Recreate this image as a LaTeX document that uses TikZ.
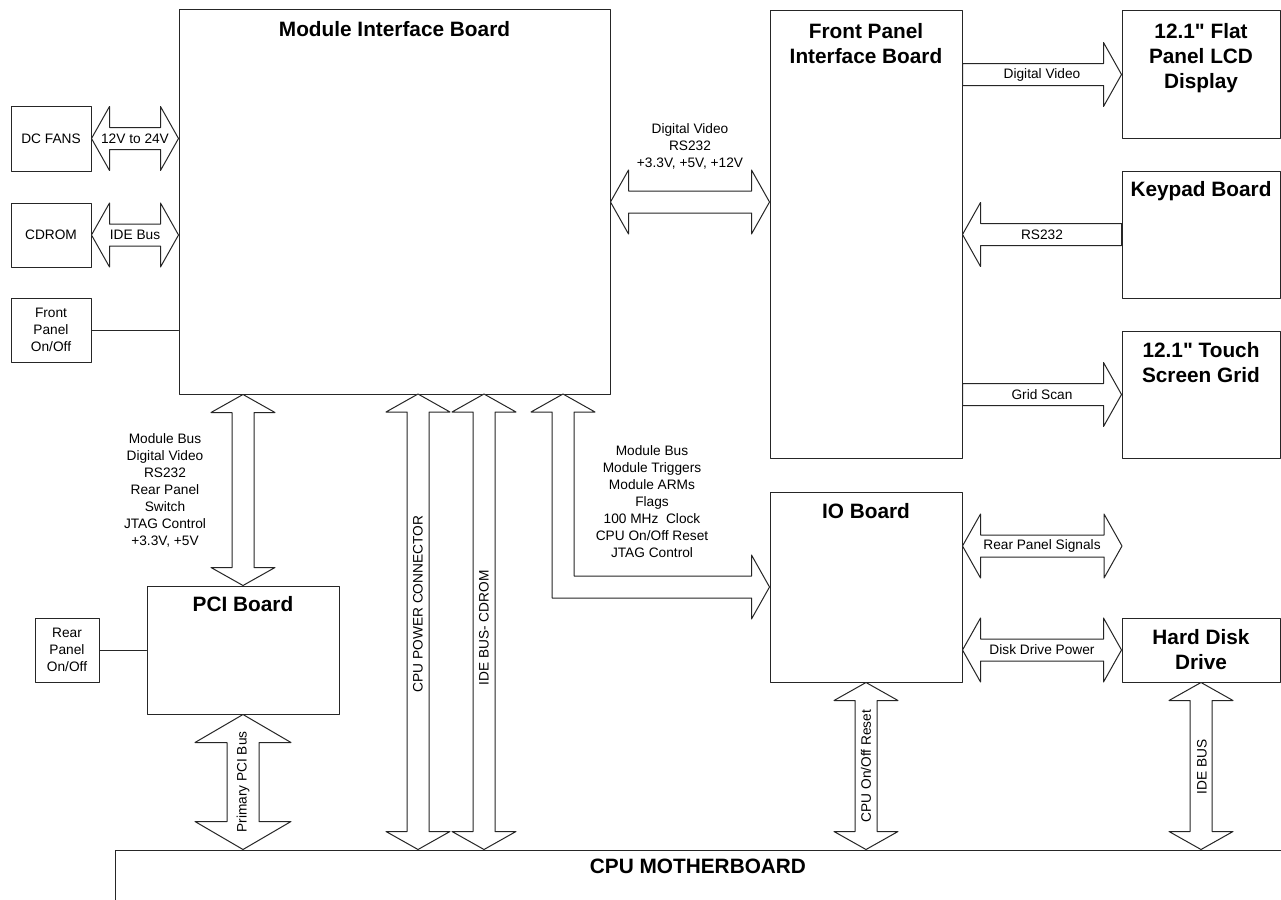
\documentclass[tikz,border=0pt]{standalone}
\usepackage{fontspec}
\setmainfont{Liberation Sans}
\newfontfamily\plainsans{Liberation Sans}
\usetikzlibrary{calc}
\definecolor{busInk}{HTML}{262626}
% fat bus arrows: head length, head half width, shaft half width
\newcommand{\bhl}{18pt}
\newcommand{\bhw}{32pt}
\newcommand{\bsw}{11pt}
\newcommand{\busLR}[2]{\draw[bus] let \p1=#1, \p2=#2 in (\x1,\y1) -- (\x1+\bhl,\y1+\bhw) -- (\x1+\bhl,\y1+\bsw) -- (\x2-\bhl,\y1+\bsw) -- (\x2-\bhl,\y1+\bhw) -- (\x2,\y1) -- (\x2-\bhl,\y1-\bhw) -- (\x2-\bhl,\y1-\bsw) -- (\x1+\bhl,\y1-\bsw) -- (\x1+\bhl,\y1-\bhw) -- cycle;}
\newcommand{\busR}[2]{\draw[bus] let \p1=#1, \p2=#2 in (\x1,\y1+\bsw) -- (\x2-\bhl,\y1+\bsw) -- (\x2-\bhl,\y1+\bhw) -- (\x2,\y1) -- (\x2-\bhl,\y1-\bhw) -- (\x2-\bhl,\y1-\bsw) -- (\x1,\y1-\bsw) -- cycle;}
\newcommand{\busL}[2]{\draw[bus] let \p1=#1, \p2=#2 in (\x2,\y1+\bsw) -- (\x1+\bhl,\y1+\bsw) -- (\x1+\bhl,\y1+\bhw) -- (\x1,\y1) -- (\x1+\bhl,\y1-\bhw) -- (\x1+\bhl,\y1-\bsw) -- (\x2,\y1-\bsw) -- cycle;}
\newcommand{\busUD}[2]{\draw[bus] let \p1=#1, \p2=#2 in (\x1,\y1) -- (\x1+\bhw,\y1-\bhl) -- (\x1+\bsw,\y1-\bhl) -- (\x1+\bsw,\y2+\bhl) -- (\x1+\bhw,\y2+\bhl) -- (\x1,\y2) -- (\x1-\bhw,\y2+\bhl) -- (\x1-\bsw,\y2+\bhl) -- (\x1-\bsw,\y1-\bhl) -- (\x1-\bhw,\y1-\bhl) -- cycle;}
\newcommand{\inch}{{\plainsans"}}

\begin{document}
\begin{tikzpicture}[x=1pt,y=-1pt,line cap=round,line join=round]
\useasboundingbox (0,0) rectangle (1281,899);
\path[fill=white] (0,0) rectangle (1281,899);
\clip (0,0) rectangle (1281,899);
\tikzset{box/.style={draw=busInk,line width=1pt,inner sep=0pt},wire/.style={draw=busInk,line width=1pt},bus/.style={draw=busInk,fill=white,line width=1pt},title/.style={anchor=north,font=\fontsize{20.8}{25}\selectfont\bfseries,align=center,inner sep=0pt},lbl/.style={font=\fontsize{13.7}{17}\selectfont,align=center,inner sep=0pt}}
% boards
\node[box,minimum width=431pt,minimum height=384pt] (mib) at (394.5,202) {};
\node[title] (mibT) at ([yshift=-12pt]mib.north) {Module Interface Board};
\node[box,lbl,minimum width=80pt,minimum height=65pt] (fans) at (51,138.5) {DC FANS};
\node[box,lbl,minimum width=80pt,minimum height=64pt] (cdrom) at (51,235) {CDROM};
\node[box,lbl,minimum width=80pt,minimum height=64pt] (fpsw) at (51,330) {Front\\Panel\\On/Off};
\node[box,minimum width=192pt,minimum height=447pt] (fpib) at (866,234.5) {};
\node[title] (fpibT) at ([yshift=-13pt]fpib.north) {Front Panel\\Interface Board};
\node[box,minimum width=158pt,minimum height=127pt] (lcd) at (1201,74.5) {};
\node[title] (lcdT) at ([yshift=-13pt]lcd.north) {12.1\inch{} Flat\\Panel LCD\\Display};
\node[box,minimum width=158pt,minimum height=127pt] (keypad) at (1201,234.5) {};
\node[title] (keypadT) at ([yshift=-11pt]keypad.north) {Keypad Board};
\node[box,minimum width=158pt,minimum height=127pt] (touch) at (1201,394.5) {};
\node[title] (touchT) at ([yshift=-12pt]touch.north) {12.1\inch{} Touch\\Screen Grid};
\node[box,minimum width=192pt,minimum height=190pt] (io) at (866,587) {};
\node[title] (ioT) at ([yshift=-12pt]io.north) {IO Board};
\node[box,minimum width=158pt,minimum height=64pt,font=\fontsize{20.8}{25}\selectfont\bfseries,align=center] (hdd) at (1201,650) {Hard Disk\\Drive};
\node[box,minimum width=192pt,minimum height=128pt] (pci) at (243,650) {};
\node[title] (pciT) at ([yshift=-11pt]pci.north) {PCI Board};
\node[box,lbl,minimum width=64pt,minimum height=64pt] (rpsw) at (67,650) {Rear\\Panel\\On/Off};
\node[box,minimum width=1185pt,minimum height=110pt] (cpu) at (707.5,905) {};
\node[title,anchor=center] (cpuT) at (698,866) {CPU MOTHERBOARD};
% buses
\busLR{(fans.east)}{(fans.east -| mib.west)}
\busLR{(cdrom.east)}{(cdrom.east -| mib.west)}
\draw[wire] (fpsw.east) -- (fpsw.east -| mib.west);
\busLR{(mib.east)}{(mib.east -| fpib.west)}
\busR{(lcd.west -| fpib.east)}{(lcd.west)}
\busL{(keypad.west -| fpib.east)}{(keypad.west)}
\busR{(touch.west -| fpib.east)}{(touch.west)}
\coordinate (rpend) at (1122,546);
\busLR{(rpend -| io.east)}{(rpend)}
\busLR{(hdd.west -| io.east)}{(hdd.west)}
\busUD{(pci.north |- mib.south)}{(pci.north)}
\coordinate (pwr) at (418,394);
\coordinate (ide) at (484,394);
\busUD{(pwr)}{(pwr |- cpu.north)}
\busUD{(ide)}{(ide |- cpu.north)}
\busUD{(io.south)}{(io.south |- cpu.north)}
\busUD{(hdd.south)}{(hdd.south |- cpu.north)}
\begin{scope}
\renewcommand{\bhl}{28pt}\renewcommand{\bhw}{48pt}\renewcommand{\bsw}{16pt}
\busUD{(pci.south)}{(pci.south |- cpu.north)}
\end{scope}
\draw[wire] (rpsw.east) -- (pci.west);
% bent bus to the IO board
\coordinate (trg) at (563,394);
\draw[bus] let \p1=(trg), \p2=(io.west) in (\x1,\y1) -- (\x1+\bhw,\y1-\bhl) -- (\x1+\bsw,\y1-\bhl) -- (\x1+\bsw,\y2+\bsw) -- (\x2-\bhl,\y2+\bsw) -- (\x2-\bhl,\y2+\bhw) -- (\x2,\y2) -- (\x2-\bhl,\y2-\bhw) -- (\x2-\bhl,\y2-\bsw) -- (\x1-\bsw,\y2-\bsw) -- (\x1-\bsw,\y1-\bhl) -- (\x1-\bhw,\y1-\bhl) -- cycle;
% bus labels
\node[lbl] (vfans) at (135,138.5) {12V to 24V};
\node[lbl] (vcd) at (135,235) {IDE Bus};
\node[lbl] (vfp) at (690,146) {Digital Video\\RS232\\+3.3V, +5V, +12V};
\node[lbl] (vlcd) at (1042,75) {Digital Video};
\node[lbl] (vkey) at (1042,234.5) {RS232};
\node[lbl] (vtouch) at (1042,394.5) {Grid Scan};
\node[lbl] (vrear) at (1042,546) {Rear Panel Signals};
\node[lbl] (vdisk) at (1042,650) {Disk Drive Power};
\node[lbl] (vpci) at (165,490) {Module Bus\\Digital Video\\RS232\\Rear Panel\\Switch\\JTAG Control\\+3.3V, +5V};
\node[lbl] (vio) at (652,502) {Module Bus\\Module Triggers\\Module ARMs\\Flags\\100 MHz\ \ Clock\\CPU On/Off Reset\\JTAG Control};
\node[lbl,rotate=90] (vpwr) at (418,604) {CPU POWER CONNECTOR};
\node[lbl,rotate=90] (vide) at (484,628) {IDE BUS- CDROM};
\node[lbl,rotate=90] (vprim) at (243,782) {Primary PCI Bus};
\node[lbl,rotate=90] (vreset) at (866,766) {CPU On/Off Reset};
\node[lbl,rotate=90] (vhdd) at (1202,767) {IDE BUS};
\end{tikzpicture}
\end{document}
